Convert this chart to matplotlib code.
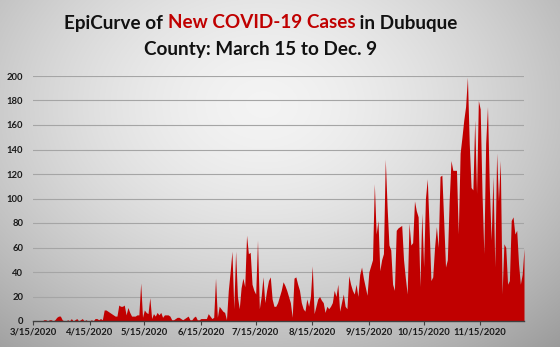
import matplotlib
matplotlib.use('Agg')
import matplotlib.pyplot as plt
import matplotlib.dates as mdates
import numpy as np
import pandas as pd

# ---------------- data ----------------
start_date = '2020-03-15'
# daily new cases, 3/15/2020 .. 12/9/2020
cases_mar_apr = [0, 0, 0, 0, 0, 0, 1, 1, 0, 1, 1, 0, 1, 3, 4, 4,
                 1, 0, 0, 1, 0, 2, 0, 1, 2, 0, 1, 2, 0, 1, 0, 0, 1, 0, 2, 2, 1, 2, 1,
                 9, 9, 8, 7, 6, 5, 4, 4]
cases_may_jun = [13, 12, 12, 13, 5, 11, 7, 4, 4, 4, 5, 5,
                 31, 3, 9, 7, 6, 19, 2, 6, 4, 7, 5, 7, 3,
                 5, 5, 5, 4, 1, 1, 2, 3, 3, 2, 1, 2, 3, 4, 1, 1, 3, 4, 1, 1,
                 2, 2, 2, 2, 6, 4, 2, 3,
                 35, 3, 12, 10, 8, 7, 1, 25, 40, 57]
cases_jul_aug = [10, 57, 20, 10, 27, 35, 28, 70, 55, 56,
                 30, 25, 22, 66, 10, 20, 36, 15, 25, 33,
                 36, 18, 12, 12, 15, 20, 25, 32, 29, 25,
                 20, 15, 3, 35, 36, 30, 25, 15, 10, 8,
                 18, 12, 20, 45, 6, 12, 18, 20, 17, 15,
                 7, 12, 10, 12, 15, 25, 20, 30, 8, 15,
                 22, 12, 10, 37, 30, 25, 22, 30, 20]
cases_sep_oct = [38, 44, 35, 28, 21, 40, 45, 50, 112, 71, 82,
                 41, 50, 55, 132, 93, 62, 58, 30, 25, 74,
                 76, 77, 78, 50, 35, 22, 80, 62, 64, 98,
                 90, 85, 28, 88, 44, 100, 116, 77, 33, 36,
                 60, 77, 60, 118, 119, 82, 44, 50, 98, 131]
cases_nov_dec = [123, 123, 123, 71, 137, 150, 164, 175, 199, 145,
                 109, 107, 164, 104, 180, 173, 104, 55, 145, 175,
                 109, 66, 118, 44, 137, 98, 131, 22, 63, 60,
                 30, 33, 82, 85, 71, 74, 47, 30, 38, 59]

tick_dates = ['2020-03-15', '2020-04-15', '2020-05-15', '2020-06-15', '2020-07-15',
              '2020-08-15', '2020-09-15', '2020-10-15', '2020-11-15']
tick_labels = ['3/15/2020', '4/15/2020', '5/15/2020', '6/15/2020', '7/15/2020',
               '8/15/2020', '9/15/2020', '10/15/2020', '11/15/2020']
y_ticks = [0, 20, 40, 60, 80, 100, 120, 140, 160, 180, 200]

title_line1 = [('EpiCurve of ', '#111111'), ('New COVID-19 Cases', '#c00000'), (' in Dubuque', '#111111')]
title_line2 = 'County: March 15 to Dec. 9'

# ---------------- figure ----------------
values = cases_mar_apr + cases_may_jun + cases_jul_aug + cases_sep_oct + cases_nov_dec
dates = pd.date_range(start_date, periods=len(values), freq='D')

W, H = 560, 347
fig = plt.figure(figsize=(W / 100, H / 100), dpi=100)

# radial grey gradient background
bg = fig.add_axes([0, 0, 1, 1], zorder=-10)
yy, xx = np.mgrid[0:H, 0:W]
r = np.sqrt(((xx - 0.47 * W) / (0.62 * W)) ** 2 + ((yy - 0.30 * H) / (0.75 * H)) ** 2)
g = np.clip(0.955 - 0.24 * r ** 1.6, 0, 1)
bg.imshow(np.dstack([g, g, g]), aspect='auto', extent=[0, 1, 0, 1], origin='upper')
bg.axis('off')

font = 'Lato'
ax = fig.add_axes([33 / W, 26 / H, (524 - 33) / W, (321 - 76) / H])
ax.set_facecolor('none')
ax.fill_between(dates, values, 0, color='#c00000', lw=0, zorder=3)

ax.set_ylim(0, 200)
ax.set_xlim(dates[0], dates[-1])
ax.set_yticks(y_ticks)
ax.set_yticklabels([str(v) for v in y_ticks], fontfamily=font, fontweight='bold',
                   fontsize=6.8, color='#1a1a1a')
ax.grid(axis='y', color='#a5a5a5', lw=0.8, zorder=1)
ax.set_axisbelow(True)
ax.tick_params(axis='y', length=0, pad=7)

xt = pd.to_datetime(tick_dates)
ax.set_xticks(xt)
ax.set_xticklabels(tick_labels, fontfamily=font, fontweight='bold', fontsize=6.8, color='#1a1a1a')
ax.tick_params(axis='x', length=3, width=0.8, color='#404040', pad=2, direction='out')

for s in ['top', 'right', 'left']:
    ax.spines[s].set_visible(False)
ax.spines['bottom'].set_color('#404040')
ax.spines['bottom'].set_linewidth(1.0)
ax.spines['bottom'].set_zorder(4)

# ---------------- title ----------------
tsize = 13.6
cx = 261 / W
fig.canvas.draw()
renderer = fig.canvas.get_renderer()
texts = []
widths = []
for s, c in title_line1:
    t = fig.text(0, 0, s, fontsize=tsize, fontweight='bold', fontfamily=font, color=c,
                 va='center', ha='left')
    widths.append(t.get_window_extent(renderer).width)
    texts.append(t)
total = sum(widths)
x0 = cx * W - total / 2
y1 = 1 - 23 / H
for t, w in zip(texts, widths):
    t.set_position((x0 / W, y1))
    x0 += w
fig.text(cx, 1 - 49 / H, title_line2, fontsize=tsize, fontweight='bold', fontfamily=font,
         color='#111111', ha='center', va='center')

fig.savefig('out.png', dpi=100)
